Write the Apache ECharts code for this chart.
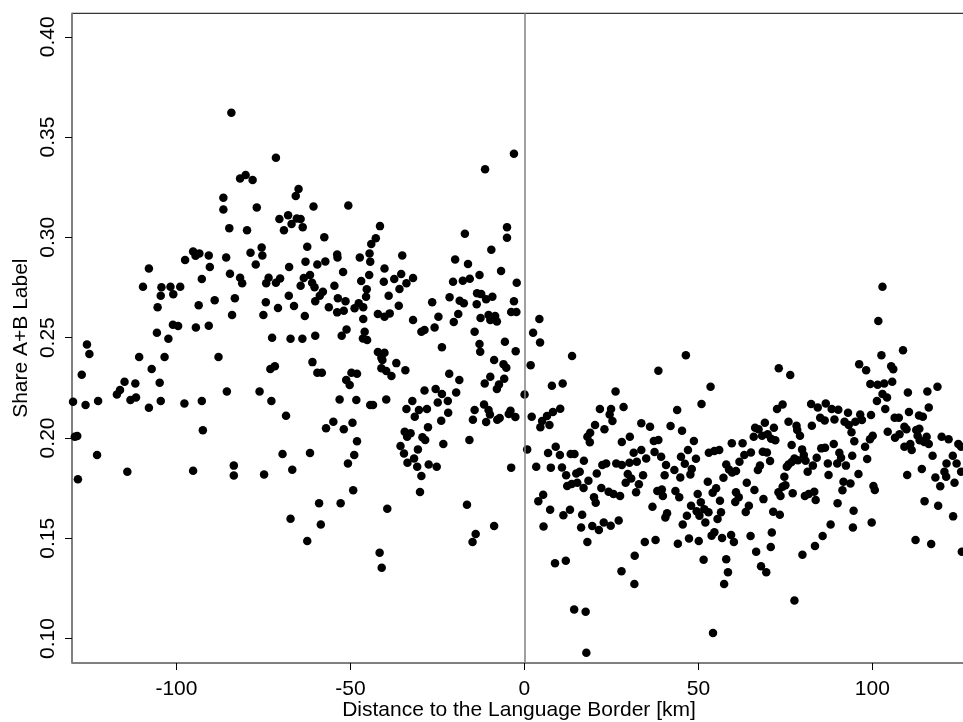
<!DOCTYPE html>
<html><head><meta charset="utf-8">
<script src="https://cdn.jsdelivr.net/npm/echarts@6/dist/echarts.min.js"></script>
<style>html,body{margin:0;padding:0;background:#fff}#c{width:963px;height:722px}</style>
</head><body><div id="c"></div>
<script>
// Axis ticks
const xTicks = [-100, -50, 0, 50, 100];
const yTicks = [0.10, 0.15, 0.20, 0.25, 0.30, 0.35, 0.40];

// Points west of the border (distance < 0): [km, share]
const westPoints = [
[-84.2,0.3621],[-71.4,0.3397],[-81.7,0.3294],[-80.1,0.3311],[-78.1,0.3286],[-64.9,0.3241],[-65.7,0.3206],[-86.5,0.3198],[-86.5,0.3139],[-76.9,0.3149],
[-60.6,0.3154],[-50.6,0.3159],[-70.4,0.3091],[-67.9,0.3110],[-65.4,0.3094],[-64.3,0.3091],[-66.9,0.3066],[-69.1,0.3036],[-63.7,0.3051],[-84.8,0.3046],
[-79.7,0.3036],[-57.5,0.3001],[-62.4,0.2953],[-75.5,0.2950],[-75.3,0.2910],[-78.7,0.2923],[-85.7,0.2900],[-77.2,0.2865],[-67.6,0.2852],[-62.9,0.2879],
[-59.5,0.2865],[-57.2,0.2880],[-53.8,0.2915],[-53.7,0.2899],[-47.3,0.2900],[-44.5,0.2920],[-44.0,0.2967],[-44.3,0.2879],[-52.1,0.2827],[-44.6,0.2812],
[-46.9,0.2782],[-45.3,0.2741],[-54.6,0.2759],[-61.6,0.2812],[-63.4,0.2797],[-61.0,0.2774],[-60.3,0.2751],[-64.3,0.2759],[-70.2,0.2795],[-71.4,0.2774],
[-73.5,0.2799],[-74.2,0.2771],[-81.7,0.2799],[-81.1,0.2771],[-84.6,0.2819],[-92.7,0.2792],[-90.4,0.2852],[-90.7,0.2910],[-93.4,0.2920],[-95.2,0.2930],
[-94.5,0.2908],[-97.5,0.2887],[-107.9,0.2845],[-109.6,0.2754],[-104.3,0.2751],[-101.7,0.2754],[-98.9,0.2754],
[-104.5,0.2709],[-100.9,0.2716],[-105.4,0.2651],[-93.6,0.2661],[-89.0,0.2686],[-83.2,0.2696],[-84.0,0.2613],[-101.0,0.2564],[-99.5,0.2558],[-94.4,0.2550],
[-90.7,0.2559],[-105.6,0.2525],[-102.3,0.2495],[-125.7,0.2466],[-125.0,0.2418],[-127.2,0.2315],[-110.7,0.2403],[-103.4,0.2403],[-87.9,0.2403],[-107.1,0.2344],
[-114.9,0.2280],[-111.8,0.2271],[-116.2,0.2239],[-117.1,0.2217],[-104.8,0.2275],[-113.2,0.2189],[-111.6,0.2202],[-129.7,0.2181],[-126.1,0.2164],[-122.5,0.2184],
[-107.9,0.2151],[-104.5,0.2184],[-97.7,0.2172],[-92.7,0.2184],[-85.5,0.2232],[-76.1,0.2232],[-72.7,0.2184],[-68.5,0.2111],[-92.4,0.2038],[-129.2,0.2006],
[-128.5,0.2010],[-122.8,0.1915],[-114.1,0.1832],[-95.2,0.1837],[-83.5,0.1862],[-83.5,0.1813],[-74.8,0.1818],[-66.7,0.1842],[-69.5,0.1920],[-61.6,0.1925],
[-50.7,0.1872],[-48.9,0.1915],[-48.1,0.1983],[-49.4,0.2076],[-51.9,0.2043],[-54.9,0.2081],[-57.0,0.2048],[-53.1,0.2192],[-48.3,0.2189],[-44.3,0.2164],
[-60.9,0.2378],[-59.5,0.2325],[-58.2,0.2325],[-73.0,0.2344],[-71.7,0.2358],[-72.5,0.2500],[-67.2,0.2495],[-63.8,0.2495],[-60.1,0.2510],[-75.0,0.2613],
[-74.3,0.2676],[-70.8,0.2648],[-66.2,0.2658],[-63.1,0.2608],[-67.7,0.2709],[-60.1,0.2681],[-58.8,0.2709],[-57.9,0.2729],[-56.2,0.2651],[-53.6,0.2696],
[-51.4,0.2681],[-53.8,0.2626],[-51.9,0.2634],[-48.8,0.2646],[-47.6,0.2671],[-46.3,0.2651],[-45.5,0.2704],[-46.3,0.2593],[-51.1,0.2541],[-52.5,0.2510],
[-45.9,0.2530],[-46.4,0.2496],[-45.2,0.2488],[-51.2,0.2289],[-49.7,0.2325],[-48.1,0.2320],[-50.2,0.2264],[-128.3,0.1794],
[-67.2,0.1597],[-59.0,0.1675],[-52.8,0.1675],[-49.2,0.1739],[-58.5,0.1569],[-62.4,0.1486],
[-3.0,0.3417],[-11.3,0.3339],[-41.5,0.3056],[-42.7,0.2995],[-35.1,0.2910],[-40.2,0.2845],[-35.4,0.2817],[-37.4,0.2792],[-40.4,0.2779],[-33.9,0.2771],
[-32.0,0.2797],[-35.9,0.2742],[-17.1,0.3018],[-19.9,0.2890],[-16.2,0.2867],[-9.5,0.2938],[-5.0,0.3051],[-5.0,0.2998],[-6.7,0.2832],[-12.9,0.2812],
[-15.7,0.2794],[-17.7,0.2784],[-20.5,0.2779],[-2.2,0.2774],
[-39.0,0.2709],[-36.1,0.2659],[-42.1,0.2618],[-40.2,0.2604],[-38.7,0.2621],[-32.0,0.2588],[-26.5,0.2676],[-21.5,0.2701],[-18.6,0.2684],[-17.4,0.2671],
[-24.7,0.2604],[-25.8,0.2550],[-29.6,0.2530],[-28.7,0.2538],[-20.3,0.2578],[-19.0,0.2618],[-13.6,0.2721],[-12.4,0.2717],[-11.0,0.2691],[-9.2,0.2704],
[-13.7,0.2666],[-12.6,0.2598],[-10.3,0.2613],[-9.8,0.2588],[-8.4,0.2608],[-7.9,0.2580],[-3.0,0.2681],[-3.8,0.2628],[-2.3,0.2628],[-14.3,0.2530],
[-12.9,0.2468],[-12.7,0.2430],[-5.6,0.2480],[-2.5,0.2432],[-23.7,0.2452],[-42.1,0.2428],[-40.2,0.2425],[-41.1,0.2400],[-40.8,0.2388],[-36.8,0.2373],
[-41.1,0.2347],[-39.7,0.2334],[-38.2,0.2309],[-34.2,0.2338],[-8.7,0.2388],[-6.0,0.2368],[-5.2,0.2350],[-21.6,0.2320],[-18.7,0.2289],[-9.8,0.2305],
[-5.8,0.2295],[-11.4,0.2271],[-7.3,0.2267],[-7.9,0.2244],[-28.7,0.2237],[-25.5,0.2244],[-23.7,0.2219],[-19.6,0.2227],[-24.9,0.2177],[-22.0,0.2184],
[-32.2,0.2184],[-39.7,0.2192],[-43.5,0.2164],[-33.9,0.2144],[-30.3,0.2139],[-28.0,0.2144],[-31.5,0.2106],[-21.9,0.2126],[-23.9,0.2086],[-14.3,0.2139],
[-11.6,0.2167],[-10.3,0.2139],[-9.9,0.2117],[-14.8,0.2091],[-11.0,0.2079],[-7.8,0.2091],[-7.1,0.2099],[-4.0,0.2136],[-4.5,0.2119],[-2.6,0.2104],
[-27.7,0.2053],[-34.4,0.2031],[-32.7,0.2023],[-33.7,0.2006],[-29.3,0.2003],[-28.5,0.1990],[-35.6,0.1960],[-30.6,0.1943],[-34.6,0.1923],[-23.3,0.1970],
[-15.8,0.1990],[-31.7,0.1898],[-33.6,0.1876],[-30.8,0.1856],[-27.5,0.1868],[-25.2,0.1856],[-29.6,0.1810],[-3.8,0.1852],
[-30.0,0.1730],[-39.4,0.1647],[-16.5,0.1667],[-8.7,0.1561],[-14.0,0.1521],[-14.9,0.1481],[-41.6,0.1428],[-41.0,0.1353]
];

// Points east of the border (distance >= 0): [km, share]
const eastPoints = [
[0.05,0.2217],
[4.3,0.2593],[2.5,0.2525],[4.5,0.2476],[13.7,0.2408],[1.8,0.2363],[38.5,0.2335],[7.9,0.2260],[11.0,0.2271],[26.2,0.2232],[2.1,0.2106],
[5.1,0.2084],[4.6,0.2053],[7.2,0.2064],[6.5,0.2109],[8.2,0.2129],[10.3,0.2146],[21.7,0.2144],[24.9,0.2144],[28.5,0.2154],[24.5,0.2117],
[25.3,0.2084],[20.3,0.2064],[23.0,0.2043],[18.9,0.2026],[18.1,0.2006],[18.8,0.1978],[30.3,0.2006],[28.0,0.1980],[33.6,0.2073],[36.1,0.2056],
[42.0,0.2059],[37.2,0.1985],[38.5,0.1990],[0.8,0.1943],[6.8,0.1925],[9.0,0.1956],[10.2,0.1915],[13.3,0.1920],[14.4,0.1920],[17.1,0.1886],
[3.4,0.1856],[7.6,0.1852],[10.8,0.1853],[12.0,0.1814],[14.9,0.1823],[15.9,0.1831],[18.4,0.1787],[20.8,0.1823],[22.4,0.1865],[23.5,0.1873],
[26.4,0.1873],[28.0,0.1865],[30.2,0.1876],[32.3,0.1881],[31.4,0.1926],[33.6,0.1940],[35.0,0.1898],[37.4,0.1930],[39.3,0.1906],[40.7,0.1865],
[40.3,0.1814],[34.1,0.1814],[29.7,0.1820],[30.7,0.1798],
[5.4,0.1717],[4.0,0.1685],[7.4,0.1642],[5.5,0.1559],[11.2,0.1614],[13.1,0.1642],[16.6,0.1617],[16.3,0.1554],[18.1,0.1481],[8.8,0.1375],
[11.9,0.1388],[14.3,0.1145],[17.6,0.1134],[17.8,0.0929],[12.3,0.1760],[13.6,0.1770],[15.2,0.1777],[17.0,0.1750],[20.0,0.1704],[20.5,0.1677],
[22.1,0.1750],[24.2,0.1732],[25.6,0.1720],[27.5,0.1710],[19.5,0.1561],[21.4,0.1541],[22.8,0.1579],[24.8,0.1562],[27.1,0.1589],[29.1,0.1777],
[32.9,0.1769],[32.1,0.1729],[38.2,0.1735],[39.5,0.1743],[39.8,0.1710],[36.8,0.1657],[41.0,0.1624],[40.5,0.1603],[34.6,0.1481],[37.7,0.1491],
[31.7,0.1413],[27.9,0.1335],[31.6,0.1272],
[101.7,0.2583],[46.4,0.2412],[102.6,0.2412],[108.8,0.2437],[96.2,0.2368],[98.2,0.2338],[105.4,0.2358],[106.0,0.2342],[73.1,0.2348],[76.4,0.2314],
[53.5,0.2255],[99.4,0.2269],[101.5,0.2265],[103.4,0.2271],[105.7,0.2280],[110.2,0.2227],[115.8,0.2232],[118.7,0.2255],[43.9,0.2139],[50.9,0.2169],
[74.2,0.2167],[72.6,0.2144],[82.4,0.2169],[84.3,0.2152],[86.6,0.2172],[88.3,0.2144],[90.2,0.2141],[93.0,0.2126],[96.5,0.2117],[99.6,0.2114],
[101.3,0.2184],[102.9,0.2219],[104.2,0.2202],[103.7,0.2144],[110.5,0.2129],[113.4,0.2112],[114.5,0.2106],[116.2,0.2152],[106.4,0.2101],[107.6,0.2101],
[45.3,0.2036],[48.7,0.1985],[47.0,0.1940],[45.0,0.1906],[49.3,0.1896],[46.1,0.1871],[48.1,0.1845],[43.1,0.1840],[44.8,0.1803],[47.7,0.1818],
[53.0,0.1926],[54.6,0.1935],[56.0,0.1940],[59.6,0.1973],[62.7,0.1973],[65.1,0.1928],[63.2,0.1915],[61.8,0.1881],[58.0,0.1868],[58.8,0.1843],
[59.7,0.1828],[60.8,0.1835],[57.2,0.1802],[67.7,0.1862],[67.1,0.1840],[70.6,0.1885],[68.5,0.1931],[69.7,0.1928],[65.9,0.2006],[68.3,0.2011],
[69.9,0.2018],[70.9,0.1996],[72.1,0.1989],[66.3,0.2051],[67.3,0.2043],[69.1,0.2076],[71.7,0.2051],[75.9,0.2081],[78.2,0.2061],[78.4,0.2039],
[79.2,0.2011],[82.6,0.2061],[85.0,0.2101],[86.3,0.2087],[89.1,0.2092],[92.0,0.2081],[93.2,0.2064],[94.0,0.2028],[95.1,0.2081],[97.0,0.2089],
[94.8,0.1984],[76.8,0.1965],[79.8,0.1943],[80.3,0.1915],[78.6,0.1889],[77.6,0.1898],[80.8,0.1886],[84.0,0.1901],[85.3,0.1948],[86.4,0.1951],
[88.9,0.1970],[90.5,0.1926],[91.0,0.1901],[89.9,0.1873],[92.4,0.1862],[87.2,0.1872],[82.9,0.1862],[81.4,0.1832],[75.9,0.1868],[75.4,0.1856],
[74.7,0.1807],[76.8,0.1880],[87.4,0.1815],[94.2,0.1911],[96.0,0.1820],[97.9,0.1956],[98.5,0.1895],[99.3,0.1994],[100.1,0.2011],[104.4,0.2031],
[106.5,0.2001],[107.8,0.2018],[109.2,0.2056],[109.8,0.2043],[109.2,0.1956],[110.9,0.1970],[111.3,0.1940],[112.6,0.2039],[113.5,0.2046],[113.0,0.2011],
[113.6,0.1989],[115.6,0.2006],[114.9,0.1980],[116.2,0.1970],[117.3,0.1911],[114.2,0.1845],[110.0,0.1815],[118.1,0.1803],[119.9,0.2006],[121.9,0.1994],
[124.7,0.1970],[125.5,0.1956],[123.1,0.1911],[121.3,0.1873],[124.2,0.1873],[120.7,0.1832],[125.5,0.1832],[121.2,0.1807],
[52.7,0.1782],[63.9,0.1777],[43.4,0.1735],[44.5,0.1704],[49.8,0.1720],[50.7,0.1679],[47.9,0.1662],[46.7,0.1612],[49.5,0.1635],[50.3,0.1612],
[51.7,0.1645],[52.9,0.1629],[52.0,0.1578],[45.5,0.1569],[44.1,0.1473],[47.3,0.1499],[50.1,0.1486],[51.5,0.1393],[54.1,0.1727],[55.1,0.1749],
[56.2,0.1687],[56.5,0.1629],[55.5,0.1596],[54.6,0.1530],[53.8,0.1513],[56.8,0.1501],[59.4,0.1516],[60.2,0.1481],[58.0,0.1395],[58.5,0.1330],
[57.4,0.1272],[54.2,0.1027],[60.8,0.1729],[61.6,0.1704],[60.6,0.1681],[64.5,0.1662],[63.6,0.1631],[66.1,0.1740],[68.7,0.1695],[65.0,0.1511],
[66.6,0.1433],[68.0,0.1360],[69.5,0.1330],[71.1,0.1529],[70.8,0.1456],[71.5,0.1632],[73.4,0.1617],[73.0,0.1729],[73.6,0.1710],[74.2,0.1757],
[75.0,0.1764],[77.1,0.1724],[80.6,0.1710],[81.7,0.1720],[83.3,0.1732],[83.7,0.1691],[77.6,0.1189],[79.9,0.1418],[83.5,0.1461],[85.7,0.1511],
[88.0,0.1569],[90.0,0.1675],[91.4,0.1739],[91.7,0.1782],[93.7,0.1773],[94.6,0.1637],[94.4,0.1554],[99.8,0.1579],[100.3,0.1760],[100.7,0.1740],
[112.4,0.1491],[116.9,0.1471],[115.0,0.1685],[118.9,0.1662],[119.5,0.1759],[123.6,0.1777],[123.2,0.1609],[125.7,0.1433],
[102.9,0.2754]
];

const FONT = '"Liberation Sans", Arial, Helvetica, sans-serif';
const chart = echarts.init(document.getElementById('c'), null, { renderer: 'canvas' });
chart.setOption({
  animation: false,
  backgroundColor: '#fff',
  grid: { left: 72, right: -3, top: 13.3, bottom: 59, containLabel: false, outerBoundsMode: 'none',
    show: true, borderColor: '#000', borderWidth: 1, backgroundColor: 'transparent' },
  xAxis: {
    type: 'value', min: -130, max: 126.9,
    name: 'Distance to the Language Border [km]', nameLocation: 'middle', nameGap: 37, nameMoveOverlap: false,
    nameTextStyle: { fontFamily: FONT, fontSize: 21, color: '#000' },
    axisLine: { show: true, onZero: false, lineStyle: { color: '#808080', width: 1.5 } },
    axisTick: { show: true, inside: false, length: 7, customValues: xTicks, lineStyle: { color: '#000', width: 1 } },
    axisLabel: { customValues: xTicks, margin: 16, fontFamily: FONT, fontSize: 21, color: '#000' },
    splitLine: { show: false }
  },
  yAxis: {
    type: 'value', min: 0.0878, max: 0.4117,
    name: 'Share A+B Label', nameLocation: 'middle', nameGap: 40, nameMoveOverlap: false,
    nameTextStyle: { fontFamily: FONT, fontSize: 21, color: '#000' },
    axisLine: { show: true, onZero: false, lineStyle: { color: '#808080', width: 1.5 } },
    axisTick: { show: true, inside: false, length: 7, customValues: yTicks, lineStyle: { color: '#000', width: 1 } },
    axisLabel: { customValues: yTicks, rotate: 90, margin: 13, fontFamily: FONT, fontSize: 21, color: '#000',
      formatter: v => Number(v).toFixed(2) },
    splitLine: { show: false }
  },
  series: [{
    type: 'scatter', symbol: 'circle', symbolSize: 8.5, clip: true,
    data: westPoints.concat(eastPoints),
    itemStyle: { color: '#000', opacity: 1 },
    emphasis: { disabled: true },
    markLine: {
      silent: true, symbol: 'none', animation: false,
      label: { show: false },
      lineStyle: { color: '#808080', width: 1.5, type: 'solid' },
      emphasis: { disabled: true },
      data: [{ xAxis: 0 }]
    }
  }]
});
</script>
</body></html>
